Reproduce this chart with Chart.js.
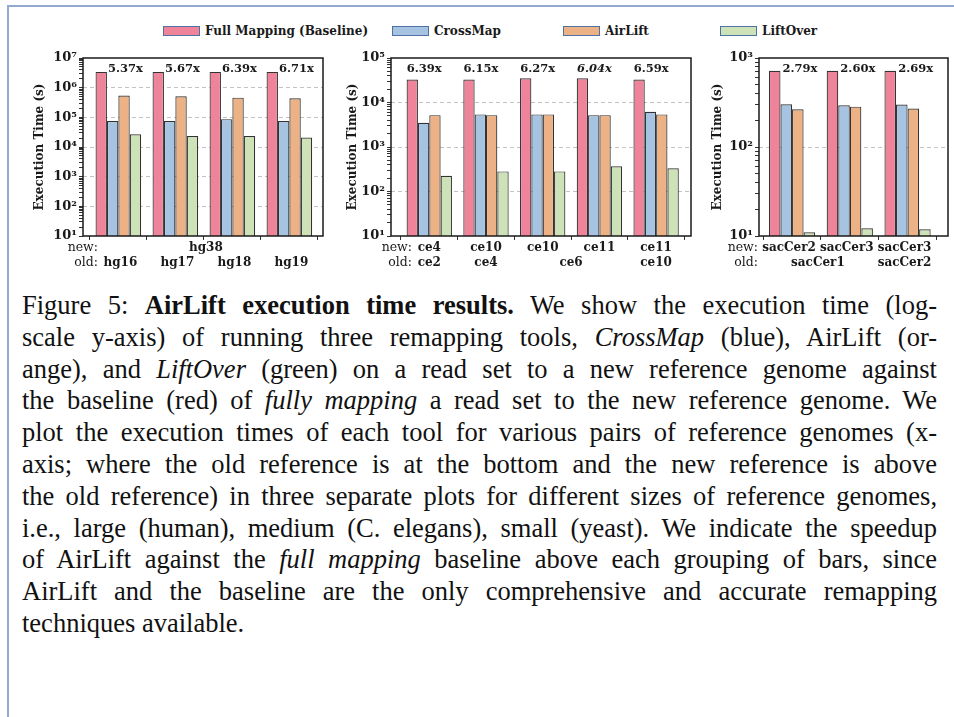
<!DOCTYPE html>
<html><head><meta charset="utf-8">
<script src="https://cdn.jsdelivr.net/npm/chart.js@4.4.1/dist/chart.umd.min.js"></script>
<style>
html,body{margin:0;padding:0;background:#fff;width:954px;height:717px;overflow:hidden;position:relative;}
#frame{position:absolute;left:7px;top:5px;width:960px;height:730px;border-top:2px solid #92aad0;border-left:2px solid #92aad0;box-sizing:border-box;}
canvas{position:absolute;}
.lg{position:absolute;top:24px;height:14px;display:flex;align-items:center;font:bold 12px 'DejaVu Serif';color:#1a1a1a;white-space:nowrap;}
.box{width:35px;height:8px;border:1px solid #4e72a6;margin-right:5px;}
#caption{position:absolute;left:22px;top:290px;width:915px;font-family:'Liberation Serif';font-size:26.5px;line-height:31.8px;color:#111;}
#caption div{text-align:justify;text-align-last:justify;white-space:nowrap;}
#caption div.last{text-align:left;text-align-last:left;}
</style>
</head><body>
<div id="frame"></div>
<div id="legend"></div>
<canvas id="c1" width="303" height="240" style="left:27px;top:40px"></canvas>
<canvas id="c2" width="358" height="240" style="left:340px;top:40px"></canvas>
<canvas id="c3" width="249" height="240" style="left:705px;top:40px"></canvas>
<div id="caption">
<div>Figure 5: <b>AirLift execution time results.</b> We show the execution time (log-</div>
<div>scale y-axis) of running three remapping tools, <i>CrossMap</i> (blue), AirLift (or-</div>
<div>ange), and <i>LiftOver</i> (green) on a read set to a new reference genome against</div>
<div>the baseline (red) of <i>fully mapping</i> a read set to the new reference genome. We</div>
<div>plot the execution times of each tool for various pairs of reference genomes (x-</div>
<div>axis; where the old reference is at the bottom and the new reference is above</div>
<div>the old reference) in three separate plots for different sizes of reference genomes,</div>
<div>i.e., large (human), medium (C. elegans), small (yeast). We indicate the speedup</div>
<div>of AirLift against the <i>full mapping</i> baseline above each grouping of bars, since</div>
<div>AirLift and the baseline are the only comprehensive and accurate remapping</div>
<div class="last">techniques available.</div>
</div>
<script>
// ---------- DATA ----------
const seriesNames = ['Full Mapping (Baseline)', 'CrossMap', 'AirLift', 'LiftOver'];

// Human (large)
const human_groups = ['hg16', 'hg17', 'hg18', 'hg19'];
const human_new = [['hg38', 0, 3]];
const human_old = [['hg16', 0, 0], ['hg17', 1, 1], ['hg18', 2, 2], ['hg19', 3, 3]];
const human_full = [3.4e6, 3.4e6, 3.4e6, 3.4e6];
const human_crossmap = [7.5e4, 7.5e4, 8.7e4, 7.5e4];
const human_airlift = [5.4e5, 5.1e5, 4.6e5, 4.4e5];
const human_liftover = [2.7e4, 2.35e4, 2.35e4, 2.1e4];
const human_speedup = ['5.37x', '5.67x', '6.39x', '6.71x'];
const human_exp = [1, 7];

// C. elegans (medium)
const worm_groups = ['ce2', 'ce4', 'ce6a', 'ce6b', 'ce10'];
const worm_new = [['ce4', 0, 0], ['ce10', 1, 1], ['ce10', 2, 2], ['ce11', 3, 3], ['ce11', 4, 4]];
const worm_old = [['ce2', 0, 0], ['ce4', 1, 1], ['ce6', 2, 3], ['ce10', 4, 4]];
const worm_full = [3.3e4, 3.3e4, 3.5e4, 3.5e4, 3.3e4];
const worm_crossmap = [3.5e3, 5.4e3, 5.4e3, 5.2e3, 6.2e3];
const worm_airlift = [5.2e3, 5.2e3, 5.4e3, 5.2e3, 5.4e3];
const worm_liftover = [226, 283, 283, 368, 333];
const worm_speedup = ['6.39x', '6.15x', '6.27x', '6.04x', '6.59x'];
const worm_exp = [1, 5];

// Yeast (small)
const yeast_groups = ['sc1a', 'sc1b', 'sc2'];
const yeast_new = [['sacCer2', 0, 0], ['sacCer3', 1, 1], ['sacCer3', 2, 2]];
const yeast_old = [['sacCer1', 0, 1], ['sacCer2', 2, 2]];
const yeast_full = [720, 720, 720];
const yeast_crossmap = [302, 294, 300];
const yeast_airlift = [265, 284, 270];
const yeast_liftover = [11.0, 12.2, 11.9];
const yeast_speedup = ['2.79x', '2.60x', '2.69x'];
const yeast_exp = [1, 3];

// ---------- STYLE ----------
const colors = ['#EE8399', '#A6C3E2', '#EDB186', '#CEE2B8'];
const INK = '#1a1a1a';
const SERIF = "'DejaVu Serif'";
const SUP = ['⁰','¹','²','³','⁴','⁵','⁶','⁷','⁸','⁹'];

// legend (HTML)
const legendPos = [163, 392, 563, 720];
const lg = document.getElementById('legend');
seriesNames.forEach((n, i) => {
  const d = document.createElement('div');
  d.className = 'lg'; d.style.left = legendPos[i] + 'px';
  d.innerHTML = '<span class="box" style="background:' + colors[i] + '"></span>' + n;
  lg.appendChild(d);
});

const annot = {
  id: 'annot',
  afterDraw(chart, args, o) {
    const {ctx, chartArea: a, scales: {x}} = chart;
    ctx.save();
    ctx.strokeStyle = INK; ctx.lineWidth = 1.5;
    ctx.strokeRect(a.left, a.top, a.right - a.left, a.bottom - a.top);
    ctx.fillStyle = INK; ctx.textAlign = 'center'; ctx.textBaseline = 'middle';
    o.speed.forEach((s, i) => {
      const it = (o.italic || []).includes(i);
      ctx.font = (it ? 'italic ' : '') + 'bold 11.5px ' + SERIF;
      ctx.fillText(s, x.getPixelForValue(i) + o.sdx, a.top + 11);
    });
    const rows = [[o.newRow, 'new:', a.bottom + 12], [o.oldRow, 'old:', a.bottom + 27]];
    rows.forEach(([row, head, y]) => {
      ctx.textAlign = 'right'; ctx.font = '12.5px ' + SERIF;
      ctx.fillText(head, a.left + o.headX, y);
      ctx.textAlign = 'center'; ctx.font = 'bold 12px ' + SERIF;
      row.forEach(([t, f, e]) => {
        ctx.fillText(t, (x.getPixelForValue(f) + x.getPixelForValue(e)) / 2 + o.ldx, y);
      });
    });
    ctx.restore();
  }
};

function makeChart(id, groups, vals, speed, newRow, oldRow, exp, cfg) {
  const isMajor = v => { const e = Math.log10(v); return Math.abs(e - Math.round(e)) < 1e-9; };
  new Chart(document.getElementById(id), {
    type: 'bar',
    data: {
      datasets: vals.map((arr, k) => ({
        label: seriesNames[k],
        data: arr.map((v, i) => ({x: i, y: v})),
        backgroundColor: colors[k],
        borderColor: '#333333',
        borderWidth: 1.2,
        categoryPercentage: 0.8,
        barPercentage: 1.0
      }))
    },
    options: {
      responsive: false, animation: false, devicePixelRatio: 1,
      layout: {padding: {top: 18, right: cfg.padRight, left: 0, bottom: 0}},
      plugins: {
        legend: {display: false}, tooltip: {enabled: false},
        annot: {speed, newRow, oldRow, sdx: cfg.sdx, headX: cfg.headX, italic: cfg.italic, ldx: cfg.ldx}
      },
      scales: {
        x: {
          type: 'linear', min: cfg.xmin, max: cfg.xmax, offset: false,
          afterBuildTicks: s => { s.ticks = groups.map((g, i) => ({value: i})); },
          ticks: {display: false},
          grid: {display: true, drawOnChartArea: false, drawTicks: true, tickLength: 4, tickColor: '#333'},
          border: {display: false},
          afterFit: s => { s.height = 44; }
        },
        y: {
          type: 'logarithmic', min: Math.pow(10, exp[0]), max: Math.pow(10, exp[1]),
          afterBuildTicks: s => {
            const t = [];
            for (let e = exp[0]; e < exp[1]; e++) for (let k = 1; k < 10; k++) t.push({value: k * Math.pow(10, e)});
            t.push({value: Math.pow(10, exp[1])});
            s.ticks = t;
          },
          ticks: {
            autoSkip: false, padding: 2, color: INK,
            font: {family: SERIF, weight: 'bold', size: 13},
            callback: v => isMajor(v) ? '10' + SUP[Math.round(Math.log10(v))] : ''
          },
          grid: {
            drawTicks: true, tickLength: 4, tickColor: '#333', lineWidth: 1,
            color: c => (c.tick && isMajor(c.tick.value) && c.tick.value > Math.pow(10, exp[0]) && c.tick.value < Math.pow(10, exp[1])) ? '#c2c2c2' : 'rgba(0,0,0,0)'
          },
          border: {display: false, dash: [4, 3]},
          title: {display: true, text: 'Execution Time (s)', color: INK, font: {family: SERIF, weight: 'bold', size: 12}, padding: {top: 6, bottom: 0}},
          afterFit: s => { s.width = cfg.yw; }
        }
      }
    },
    plugins: [annot]
  });
}

makeChart('c1', human_groups, [human_full, human_crossmap, human_airlift, human_liftover], human_speedup, human_new, human_old, human_exp,
  {xmin: -0.62, xmax: 3.59, yw: 56, padRight: 7, sdx: 7, headX: 15, ldx: 2});
makeChart('c2', worm_groups, [worm_full, worm_crossmap, worm_airlift, worm_liftover], worm_speedup, worm_new, worm_old, worm_exp,
  {xmin: -0.675, xmax: 4.615, yw: 51, padRight: 7, sdx: -5, headX: 21, italic: [3], ldx: 0});
makeChart('c3', yeast_groups, [yeast_full, yeast_crossmap, yeast_airlift, yeast_liftover], yeast_speedup, yeast_new, yeast_old, yeast_exp,
  {xmin: -0.572, xmax: 2.70, yw: 54, padRight: 6, sdx: 8, headX: -1, ldx: -3});
</script>
</body></html>
